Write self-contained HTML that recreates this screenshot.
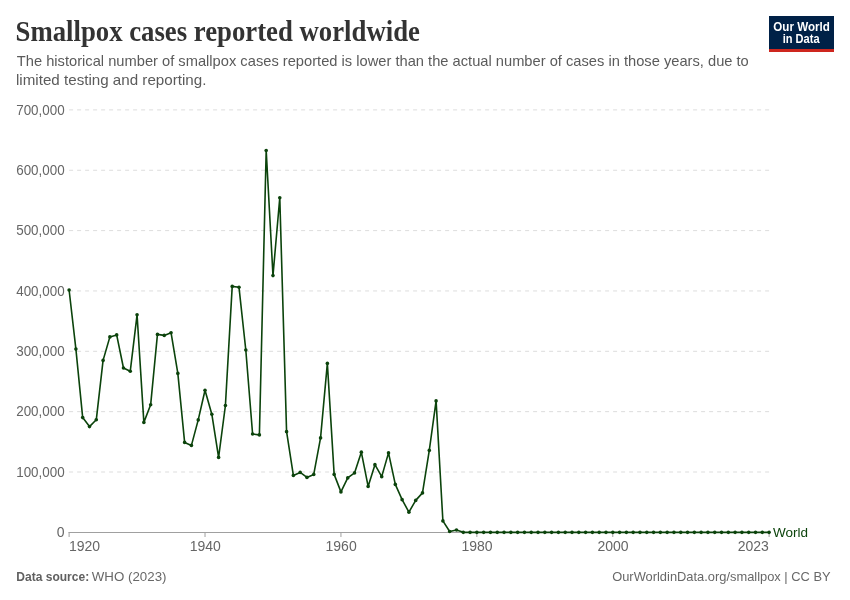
<!DOCTYPE html>
<html><head><meta charset="utf-8"><style>
html,body{margin:0;padding:0;background:#fff;width:850px;height:600px;overflow:hidden}
svg{display:block;will-change:transform}
text{font-family:"Liberation Sans",sans-serif}
</style></head><body>
<svg width="850" height="600" viewBox="0 0 850 600">
<rect width="850" height="600" fill="#fff"/>
<text x="15.5" y="40.8" style="font-family:'Liberation Serif',serif;font-weight:bold;font-size:29.5px" fill="#333" textLength="404.4" lengthAdjust="spacingAndGlyphs">Smallpox cases reported worldwide</text>
<g fill="#5b5b5b" style="font-size:15px">
<text x="16.8" y="66.3" textLength="732" lengthAdjust="spacingAndGlyphs">The historical number of smallpox cases reported is lower than the actual number of cases in those years, due to</text>
<text x="16" y="84.7" textLength="190.4" lengthAdjust="spacingAndGlyphs">limited testing and reporting.</text>
</g>
<g>
<rect x="769" y="16" width="65" height="36" fill="#002147"/>
<rect x="769" y="49" width="65" height="3" fill="#ce261e"/>
<text x="773.3" y="30.7" fill="#fff" style="font-size:12px;font-weight:bold" textLength="56.5" lengthAdjust="spacingAndGlyphs">Our World</text>
<text x="782.7" y="42.7" fill="#fff" style="font-size:12px;font-weight:bold" textLength="36.9" lengthAdjust="spacingAndGlyphs">in Data</text>
</g>
<g stroke="#dddddd" stroke-width="1" stroke-dasharray="4,4"><line x1="69.1" x2="769.1" y1="472.00" y2="472.00"/><line x1="69.1" x2="769.1" y1="411.65" y2="411.65"/><line x1="69.1" x2="769.1" y1="351.30" y2="351.30"/><line x1="69.1" x2="769.1" y1="290.95" y2="290.95"/><line x1="69.1" x2="769.1" y1="230.60" y2="230.60"/><line x1="69.1" x2="769.1" y1="170.25" y2="170.25"/><line x1="69.1" x2="769.1" y1="109.90" y2="109.90"/></g>
<g fill="#666" text-anchor="end" style="font-size:14px"><text x="64.6" y="536.95">0</text><text x="64.7" y="476.60" textLength="48.5" lengthAdjust="spacingAndGlyphs">100,000</text><text x="64.7" y="416.25" textLength="48.5" lengthAdjust="spacingAndGlyphs">200,000</text><text x="64.7" y="355.90" textLength="48.5" lengthAdjust="spacingAndGlyphs">300,000</text><text x="64.7" y="295.55" textLength="48.5" lengthAdjust="spacingAndGlyphs">400,000</text><text x="64.7" y="235.20" textLength="48.5" lengthAdjust="spacingAndGlyphs">500,000</text><text x="64.7" y="174.85" textLength="48.5" lengthAdjust="spacingAndGlyphs">600,000</text><text x="64.7" y="114.50" textLength="48.5" lengthAdjust="spacingAndGlyphs">700,000</text></g>
<line x1="68.6" x2="769.1" y1="532.5" y2="532.5" stroke="#a0a0a0" stroke-width="1"/>
<g stroke="#a0a0a0" stroke-width="1"><line x1="69.10" x2="69.10" y1="532" y2="537"/><line x1="205.02" x2="205.02" y1="532" y2="537"/><line x1="340.94" x2="340.94" y1="532" y2="537"/><line x1="476.87" x2="476.87" y1="532" y2="537"/><line x1="612.79" x2="612.79" y1="532" y2="537"/><line x1="769.10" x2="769.10" y1="532" y2="537"/></g>
<g fill="#666" style="font-size:14px"><text x="205.22" y="550.8" text-anchor="middle">1940</text><text x="341.14" y="550.8" text-anchor="middle">1960</text><text x="477.07" y="550.8" text-anchor="middle">1980</text><text x="612.99" y="550.8" text-anchor="middle">2000</text><text x="69" y="550.8">1920</text><text x="737.7" y="550.8">2023</text></g>
<path d="M69.10,290.00 L75.90,349.10 L82.69,417.60 L89.49,426.60 L96.28,419.80 L103.08,360.40 L109.88,336.90 L116.67,334.90 L123.47,368.00 L130.27,371.20 L137.06,314.80 L143.86,422.40 L150.65,404.80 L157.45,334.40 L164.25,335.40 L171.04,332.70 L177.84,373.40 L184.63,442.40 L191.43,445.40 L198.23,419.90 L205.02,390.20 L211.82,414.20 L218.61,457.40 L225.41,405.50 L232.21,286.40 L239.00,287.30 L245.80,350.00 L252.60,434.00 L259.39,434.90 L266.19,150.50 L272.98,275.60 L279.78,197.70 L286.58,431.65 L293.37,475.40 L300.17,472.40 L306.96,477.40 L313.76,474.40 L320.56,437.90 L327.35,363.40 L334.15,474.40 L340.94,491.90 L347.74,477.90 L354.54,472.90 L361.33,452.15 L368.13,486.40 L374.93,464.65 L381.72,476.65 L388.52,452.90 L395.31,484.40 L402.11,499.65 L408.91,512.15 L415.70,500.40 L422.50,492.90 L429.29,450.40 L436.09,400.90 L442.89,520.90 L449.68,531.50 L456.48,530.05 L463.27,532.35 L470.07,532.35 L476.87,532.35 L483.66,532.35 L490.46,532.35 L497.26,532.35 L504.05,532.35 L510.85,532.35 L517.64,532.35 L524.44,532.35 L531.24,532.35 L538.03,532.35 L544.83,532.35 L551.62,532.35 L558.42,532.35 L565.22,532.35 L572.01,532.35 L578.81,532.35 L585.60,532.35 L592.40,532.35 L599.20,532.35 L605.99,532.35 L612.79,532.35 L619.59,532.35 L626.38,532.35 L633.18,532.35 L639.97,532.35 L646.77,532.35 L653.57,532.35 L660.36,532.35 L667.16,532.35 L673.95,532.35 L680.75,532.35 L687.55,532.35 L694.34,532.35 L701.14,532.35 L707.93,532.35 L714.73,532.35 L721.53,532.35 L728.32,532.35 L735.12,532.35 L741.92,532.35 L748.71,532.35 L755.51,532.35 L762.30,532.35 L769.10,532.35" fill="none" stroke="#0b430b" stroke-width="1.6" stroke-linejoin="round"/>
<g fill="#0b430b"><circle cx="69.10" cy="290.00" r="1.8"/><circle cx="75.90" cy="349.10" r="1.8"/><circle cx="82.69" cy="417.60" r="1.8"/><circle cx="89.49" cy="426.60" r="1.8"/><circle cx="96.28" cy="419.80" r="1.8"/><circle cx="103.08" cy="360.40" r="1.8"/><circle cx="109.88" cy="336.90" r="1.8"/><circle cx="116.67" cy="334.90" r="1.8"/><circle cx="123.47" cy="368.00" r="1.8"/><circle cx="130.27" cy="371.20" r="1.8"/><circle cx="137.06" cy="314.80" r="1.8"/><circle cx="143.86" cy="422.40" r="1.8"/><circle cx="150.65" cy="404.80" r="1.8"/><circle cx="157.45" cy="334.40" r="1.8"/><circle cx="164.25" cy="335.40" r="1.8"/><circle cx="171.04" cy="332.70" r="1.8"/><circle cx="177.84" cy="373.40" r="1.8"/><circle cx="184.63" cy="442.40" r="1.8"/><circle cx="191.43" cy="445.40" r="1.8"/><circle cx="198.23" cy="419.90" r="1.8"/><circle cx="205.02" cy="390.20" r="1.8"/><circle cx="211.82" cy="414.20" r="1.8"/><circle cx="218.61" cy="457.40" r="1.8"/><circle cx="225.41" cy="405.50" r="1.8"/><circle cx="232.21" cy="286.40" r="1.8"/><circle cx="239.00" cy="287.30" r="1.8"/><circle cx="245.80" cy="350.00" r="1.8"/><circle cx="252.60" cy="434.00" r="1.8"/><circle cx="259.39" cy="434.90" r="1.8"/><circle cx="266.19" cy="150.50" r="1.8"/><circle cx="272.98" cy="275.60" r="1.8"/><circle cx="279.78" cy="197.70" r="1.8"/><circle cx="286.58" cy="431.65" r="1.8"/><circle cx="293.37" cy="475.40" r="1.8"/><circle cx="300.17" cy="472.40" r="1.8"/><circle cx="306.96" cy="477.40" r="1.8"/><circle cx="313.76" cy="474.40" r="1.8"/><circle cx="320.56" cy="437.90" r="1.8"/><circle cx="327.35" cy="363.40" r="1.8"/><circle cx="334.15" cy="474.40" r="1.8"/><circle cx="340.94" cy="491.90" r="1.8"/><circle cx="347.74" cy="477.90" r="1.8"/><circle cx="354.54" cy="472.90" r="1.8"/><circle cx="361.33" cy="452.15" r="1.8"/><circle cx="368.13" cy="486.40" r="1.8"/><circle cx="374.93" cy="464.65" r="1.8"/><circle cx="381.72" cy="476.65" r="1.8"/><circle cx="388.52" cy="452.90" r="1.8"/><circle cx="395.31" cy="484.40" r="1.8"/><circle cx="402.11" cy="499.65" r="1.8"/><circle cx="408.91" cy="512.15" r="1.8"/><circle cx="415.70" cy="500.40" r="1.8"/><circle cx="422.50" cy="492.90" r="1.8"/><circle cx="429.29" cy="450.40" r="1.8"/><circle cx="436.09" cy="400.90" r="1.8"/><circle cx="442.89" cy="520.90" r="1.8"/><circle cx="449.68" cy="531.50" r="1.8"/><circle cx="456.48" cy="530.05" r="1.8"/><circle cx="463.27" cy="532.35" r="1.8"/><circle cx="470.07" cy="532.35" r="1.8"/><circle cx="476.87" cy="532.35" r="1.8"/><circle cx="483.66" cy="532.35" r="1.8"/><circle cx="490.46" cy="532.35" r="1.8"/><circle cx="497.26" cy="532.35" r="1.8"/><circle cx="504.05" cy="532.35" r="1.8"/><circle cx="510.85" cy="532.35" r="1.8"/><circle cx="517.64" cy="532.35" r="1.8"/><circle cx="524.44" cy="532.35" r="1.8"/><circle cx="531.24" cy="532.35" r="1.8"/><circle cx="538.03" cy="532.35" r="1.8"/><circle cx="544.83" cy="532.35" r="1.8"/><circle cx="551.62" cy="532.35" r="1.8"/><circle cx="558.42" cy="532.35" r="1.8"/><circle cx="565.22" cy="532.35" r="1.8"/><circle cx="572.01" cy="532.35" r="1.8"/><circle cx="578.81" cy="532.35" r="1.8"/><circle cx="585.60" cy="532.35" r="1.8"/><circle cx="592.40" cy="532.35" r="1.8"/><circle cx="599.20" cy="532.35" r="1.8"/><circle cx="605.99" cy="532.35" r="1.8"/><circle cx="612.79" cy="532.35" r="1.8"/><circle cx="619.59" cy="532.35" r="1.8"/><circle cx="626.38" cy="532.35" r="1.8"/><circle cx="633.18" cy="532.35" r="1.8"/><circle cx="639.97" cy="532.35" r="1.8"/><circle cx="646.77" cy="532.35" r="1.8"/><circle cx="653.57" cy="532.35" r="1.8"/><circle cx="660.36" cy="532.35" r="1.8"/><circle cx="667.16" cy="532.35" r="1.8"/><circle cx="673.95" cy="532.35" r="1.8"/><circle cx="680.75" cy="532.35" r="1.8"/><circle cx="687.55" cy="532.35" r="1.8"/><circle cx="694.34" cy="532.35" r="1.8"/><circle cx="701.14" cy="532.35" r="1.8"/><circle cx="707.93" cy="532.35" r="1.8"/><circle cx="714.73" cy="532.35" r="1.8"/><circle cx="721.53" cy="532.35" r="1.8"/><circle cx="728.32" cy="532.35" r="1.8"/><circle cx="735.12" cy="532.35" r="1.8"/><circle cx="741.92" cy="532.35" r="1.8"/><circle cx="748.71" cy="532.35" r="1.8"/><circle cx="755.51" cy="532.35" r="1.8"/><circle cx="762.30" cy="532.35" r="1.8"/><circle cx="769.10" cy="532.35" r="1.8"/></g>
<text x="773.1" y="537.1" fill="#0b430b" style="font-size:13.5px">World</text>
<g fill="#686868" style="font-size:13px">
<text x="16.3" y="580.7" style="font-weight:bold" fill="#606060" textLength="72.9" lengthAdjust="spacingAndGlyphs">Data source:</text>
<text x="91.8" y="580.7" textLength="74.7" lengthAdjust="spacingAndGlyphs">WHO (2023)</text>
<text x="612.2" y="580.9" textLength="218.4" lengthAdjust="spacingAndGlyphs">OurWorldinData.org/smallpox | CC BY</text>
</g>
</svg>
</body></html>
